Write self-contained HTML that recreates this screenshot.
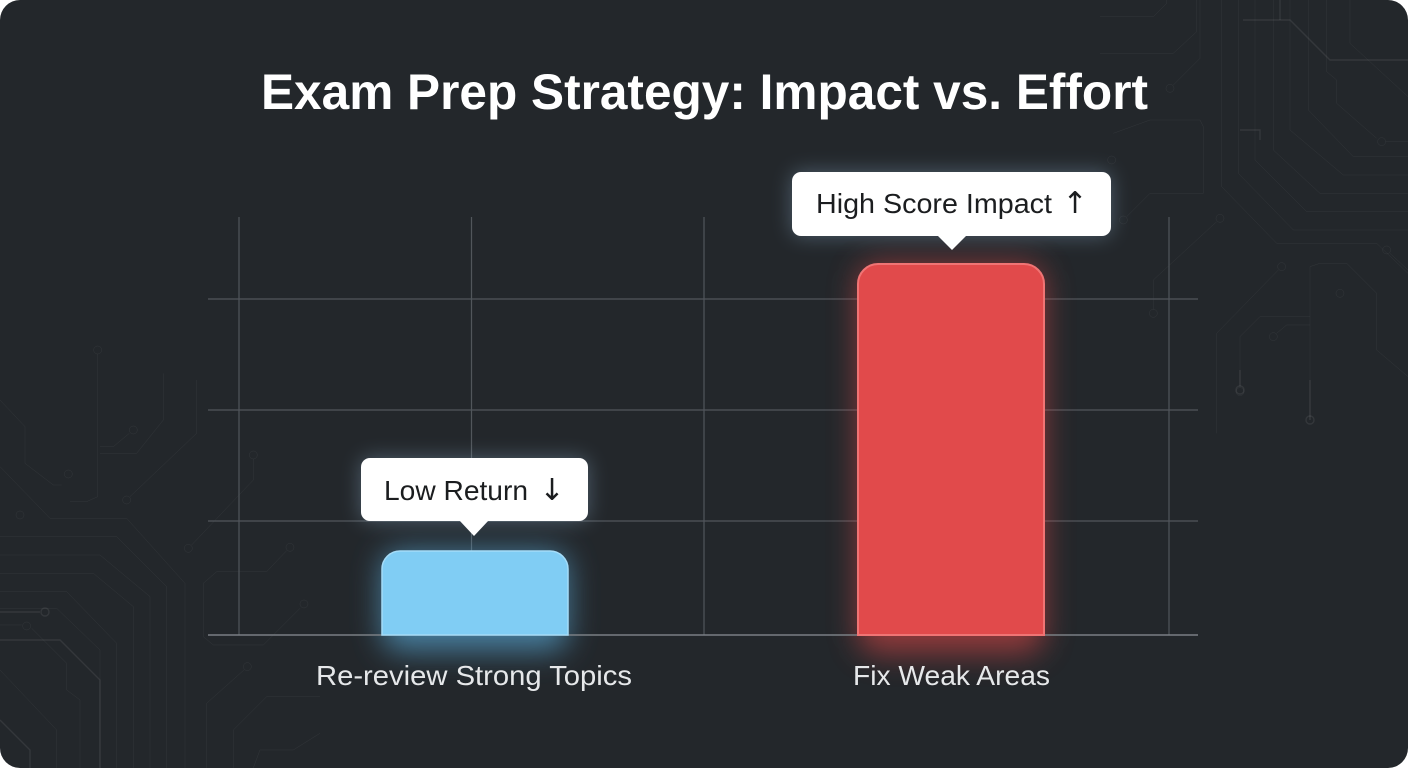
<!DOCTYPE html>
<html><head><meta charset="utf-8"><style>
html,body{margin:0;padding:0;background:#ffffff;}
body{width:1408px;height:768px;overflow:hidden;}
.card{position:absolute;left:0;top:0;width:1408px;height:768px;border-radius:20px;background:#23272b;overflow:hidden;}
svg{position:absolute;left:0;top:0;}
</style></head><body>
<div class="card">
<svg width="1408" height="768" viewBox="0 0 1408 768" xmlns="http://www.w3.org/2000/svg">
<defs>
<filter id="gb" x="-50%" y="-50%" width="200%" height="200%"><feGaussianBlur stdDeviation="15"/></filter>
<filter id="gw" x="-50%" y="-50%" width="200%" height="200%"><feGaussianBlur stdDeviation="10"/></filter>
</defs>

<!-- circuit traces left bottom -->
<g fill="none" stroke="#ffffff" stroke-opacity="0.08" stroke-width="1.4">
<g transform="translate(0,330) scale(0.3333)">
<path d="M0,210 L75,290 L75,400 L160,465 L185,465"/>
<circle cx="205" cy="432" r="12"/>
<path d="M0,410 L150,565 L380,565 L555,760 L555,1314"/>
<path d="M0,620 L350,620 L500,770 L500,1314"/>
<path d="M0,675 L300,675 L450,800 L450,1314"/>
<path d="M0,730 L280,730 L400,830 L400,1314"/>
<path d="M0,785 L200,785 L350,940 L350,1314"/>
<path d="M0,835 L170,835 L300,960 L300,1314"/>
<path d="M0,885 L65,885"/><circle cx="80" cy="888" r="12"/>
<path d="M95,895 L200,1000 L200,1080 L240,1110 L240,1314"/>
<path d="M0,1020 L170,1200 L170,1314"/>
<circle cx="293" cy="60" r="12"/>
<path d="M293,72 L293,500 L260,515 L210,515"/>
<path d="M490,130 L490,270 L410,370 L300,370"/>
<circle cx="400" cy="300" r="12"/>
<path d="M388,310 L340,350 L300,350"/>
<path d="M590,150 L590,310 L390,500"/><circle cx="380" cy="510" r="12"/>
<circle cx="60" cy="555" r="12"/>
<circle cx="760" cy="375" r="12"/>
<path d="M760,387 L760,450 L575,645"/><circle cx="565" cy="655" r="12"/>
<circle cx="870" cy="652" r="12"/>
<path d="M860,662 L800,725 L650,725 L610,760 L610,920 L640,945 L790,945 L900,835"/>
<circle cx="912" cy="822" r="12"/>
<circle cx="742" cy="1010" r="12"/>
<path d="M732,1020 L620,1120 L620,1314"/>
<path d="M960,1100 L800,1100 L700,1200 L700,1314"/>
<path d="M960,1210 L880,1260 L780,1260 L760,1314"/>
</g>
<path d="M0,612 L40,612"/><circle cx="45" cy="612" r="4"/>
<path d="M0,640 L60,640 L100,680 L100,768"/>
<path d="M0,720 L30,750 L30,768"/>

<!-- circuit traces right top -->
<g transform="translate(1100,0) scale(0.3333)">
<path d="M365,0 L365,560 L530,730 L830,730 L924,820"/>
<path d="M415,0 L415,520 L580,690 L924,690"/>
<path d="M465,0 L465,480 L620,635 L924,635"/>
<path d="M520,0 L520,450 L660,580 L924,580"/>
<path d="M570,0 L570,390 L730,525 L924,525"/>
<path d="M625,0 L625,330 L760,470 L924,470"/>
<path d="M680,0 L680,215 L710,240 L710,310 L830,415"/><circle cx="845" cy="425" r="12"/><path d="M857,425 L924,425"/>
<path d="M750,0 L750,130 L924,290"/>
<path d="M0,50 L160,50 L200,10 L200,0"/>
<path d="M0,160 L220,160 L290,95 L290,0"/>
<circle cx="210" cy="265" r="12"/><path d="M220,255 L300,175 L300,0"/>
<path d="M40,400 L150,360 L300,360 L310,380 L310,580 L150,580 L80,650"/>
<circle cx="70" cy="660" r="12"/>
<circle cx="35" cy="480" r="12"/>
<circle cx="545" cy="800" r="12"/>
<path d="M535,810 L350,1000 L350,1300"/>
<path d="M630,1260 L630,800 L660,790 L740,790 L830,880 L830,1050 L924,1130"/>
<circle cx="720" cy="880" r="12"/>
<circle cx="520" cy="1010" r="12"/><path d="M530,1000 L560,975 L630,975"/>
<circle cx="420" cy="1175" r="12"/><path d="M420,1163 L420,1010 L480,950 L630,950"/>
<circle cx="360" cy="655" r="12"/><path d="M350,665 L160,840 L160,928"/><circle cx="160" cy="940" r="12"/>
<circle cx="860" cy="750" r="12"/><path d="M870,760 L924,810"/>
</g>
<path d="M1243,20 L1290,20 L1330,60 L1408,60"/>
<path d="M1280,20 L1280,0"/>
<path d="M1240,130 L1260,130 L1260,140"/>
<circle cx="1240" cy="390" r="4"/><path d="M1240,386 L1240,370"/>
<path d="M1310,380 L1310,420"/>
<circle cx="1310" cy="420" r="4"/>
</g>

<!-- grid -->
<g stroke="#51565b" stroke-width="1.2">
<line x1="239" y1="217" x2="239" y2="635"/>
<line x1="471.5" y1="217" x2="471.5" y2="635"/>
<line x1="704" y1="217" x2="704" y2="635"/>
<line x1="1169" y1="217" x2="1169" y2="635"/>
<line x1="208" y1="299" x2="1198" y2="299"/>
<line x1="208" y1="410" x2="1198" y2="410"/>
<line x1="208" y1="521" x2="1198" y2="521"/>
</g>

<!-- glows -->
<rect x="382" y="551" width="186" height="100" rx="18" fill="#5fb8ea" opacity="0.6" filter="url(#gb)"/>
<rect x="858" y="264" width="186" height="390" rx="20" fill="#e84848" opacity="0.55" filter="url(#gb)"/>
<rect x="361" y="458" width="227" height="63" rx="9" fill="#9fc6e6" opacity="0.35" filter="url(#gw)"/>
<rect x="792" y="172" width="319" height="64" rx="9" fill="#9fc6e6" opacity="0.35" filter="url(#gw)"/>

<!-- axis -->
<line x1="208" y1="635" x2="1198" y2="635" stroke="#7a7f84" stroke-width="1.6"/>

<!-- bars -->
<path d="M382,635 V569 A18,18 0 0 1 400,551 H550 A18,18 0 0 1 568,569 V635 Z" fill="#80cdf4" stroke="#a4dcf8" stroke-width="1.5"/>
<path d="M858,635 V284 A20,20 0 0 1 878,264 H1024 A20,20 0 0 1 1044,284 V635 Z" fill="#e14a4b" stroke="#f07474" stroke-width="2"/>

<!-- tooltips -->
<rect x="361" y="458" width="227" height="63" rx="9" fill="#ffffff"/>
<path d="M459,520 L474,536 L489,520 Z" fill="#ffffff"/>
<text x="384" y="500" font-family="'Liberation Sans', sans-serif" font-size="28" fill="#1b1d1f" textLength="144" lengthAdjust="spacingAndGlyphs">Low Return</text>
<text x="552" y="500" text-anchor="middle" font-family="'DejaVu Sans', sans-serif" font-size="30" fill="#1b1d1f">↓</text>

<rect x="792" y="172" width="319" height="64" rx="9" fill="#ffffff"/>
<path d="M937,235 L952,250 L967,235 Z" fill="#ffffff"/>
<text x="816" y="213" font-family="'Liberation Sans', sans-serif" font-size="28" fill="#1b1d1f" textLength="236" lengthAdjust="spacingAndGlyphs">High Score Impact</text>
<text x="1075" y="213" text-anchor="middle" font-family="'DejaVu Sans', sans-serif" font-size="30" fill="#1b1d1f">↑</text>

<!-- title -->
<text x="704.5" y="109" text-anchor="middle" font-family="'Liberation Sans', sans-serif" font-weight="bold" font-size="50" fill="#ffffff" textLength="887" lengthAdjust="spacingAndGlyphs">Exam Prep Strategy: Impact vs. Effort</text>

<!-- category labels -->
<text x="474" y="685" text-anchor="middle" font-family="'Liberation Sans', sans-serif" font-size="28" fill="#e6e8ea" textLength="316" lengthAdjust="spacingAndGlyphs">Re-review Strong Topics</text>
<text x="951.5" y="685" text-anchor="middle" font-family="'Liberation Sans', sans-serif" font-size="28" fill="#e6e8ea" textLength="197" lengthAdjust="spacingAndGlyphs">Fix Weak Areas</text>
</svg>
</div>
</body></html>
